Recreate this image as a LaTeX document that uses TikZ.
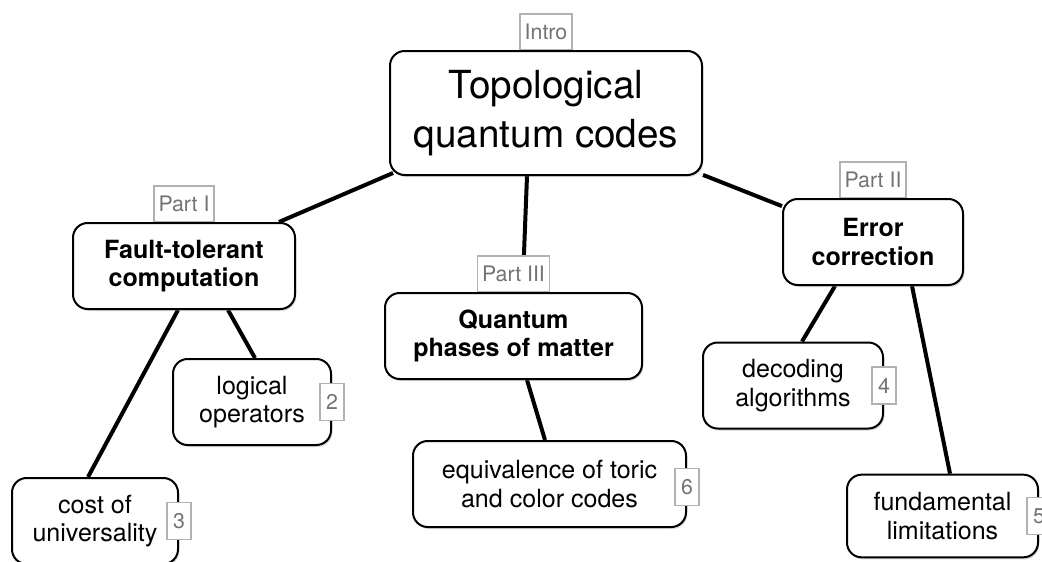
\documentclass[tikz,border=0pt]{standalone}
\usepackage{fontspec}
\setmainfont{TeX Gyre Heros}
\usetikzlibrary{positioning,calc,backgrounds,shadows}
\tikzset{
	topic/.style={
		rectangle, rounded corners=11pt, draw=black, line width=1.5pt,
		fill=white, align=center, minimum height=64.5pt,
		drop shadow={shadow xshift=1pt,shadow yshift=-1.5pt,opacity=.3},
		font=\fontsize{18.8}{21.5}\selectfont
	},
	%
	bigtopic/.style={
		topic, minimum width=234pt, minimum height=93pt,
		font=\fontsize{29}{36.75}\selectfont
	},
	%
	parttag/.style={
		rectangle, draw=black!30, line width=1.1pt, fill=white,
		text=black!55, inner xsep=3.5pt, minimum height=26.5pt,
		font=\fontsize{16}{17}\selectfont
	},
	%
	numtag/.style={
		parttag, inner xsep=2pt, minimum width=18pt, minimum height=27.5pt,
		font=\fontsize{16}{17}\selectfont
	},
	%
	link/.style={line width=3pt}
}

\begin{document}
\begin{tikzpicture}[x=0.75pt,y=-0.75pt]
\useasboundingbox (0,0) rectangle (1042,561);

%topics
\node (TQC) [bigtopic] at (546,113) {Topological\\quantum codes};
\node (FT) [topic, minimum width=166.5pt] at (184,266) {\bfseries Fault-tolerant\\\bfseries computation};
\node (QP) [topic, minimum width=192.75pt] at (513.5,336) {\bfseries Quantum\\\bfseries phases of matter};
\node (EC) [topic, minimum width=135pt] at (873,242) {\bfseries Error\\\bfseries correction};

\node (LO) [topic, minimum width=118.5pt] at (252,402) {logical\\operators};
\node (CU) [topic, minimum width=124.5pt] at (95,521) {cost of\\universality};
\node (EQ) [topic, minimum width=204.75pt] at (549.5,484) {equivalence of toric\\and color codes};
\node (DA) [topic, minimum width=135pt] at (793,385.5) {decoding\\algorithms};
\node (FL) [topic, minimum width=143.25pt, minimum height=62pt] at (942.5,516) {fundamental\\limitations};

%tags
\node (introtag) [parttag, above=0pt of TQC] {Intro};
\node (parttagI) [parttag, above=0pt of FT] {Part I};
\node (parttagII) [parttag, above=0pt of EC] {Part II};
\node (parttagIII) [parttag, above=0pt of QP] {Part III};

\node (tagLO) [numtag] at (LO.east) {2};
\node (tagCU) [numtag] at (CU.east) {3};
\node (tagDA) [numtag] at (DA.east) {4};
\node (tagFL) [numtag] at (FL.east) {5};
\node (tagEQ) [numtag] at ($(EQ.east)+(0,3)$) {6};

%links
\begin{scope}[on background layer]
\draw[link] ($(TQC.south west)+(4,-3)$) -- ($(FT.north east)+(-17,0)$);
\draw[link] ($(TQC.south)+(-19,0)$) -- ($(QP.north)+(9,0)$);
\draw[link] (TQC) -- (EC);
\draw[link] ($(FT.south)+(44,0)$) -- ($(LO.north)+(3,0)$);
\draw[link] ($(FT.south)+(-6,0)$) -- ($(CU.north)+(-7,0)$);
\draw[link] ($(QP.south)+(13.5,0)$) -- ($(EQ.north)+(-4.5,0)$);
\draw[link] ($(EC.south)+(-38,0)$) -- ($(DA.north)+(9,0)$);
\draw[link] ($(EC.south)+(39,0)$) -- ($(FL.north)+(7.5,0)$);
\end{scope}

\end{tikzpicture}
\end{document}
